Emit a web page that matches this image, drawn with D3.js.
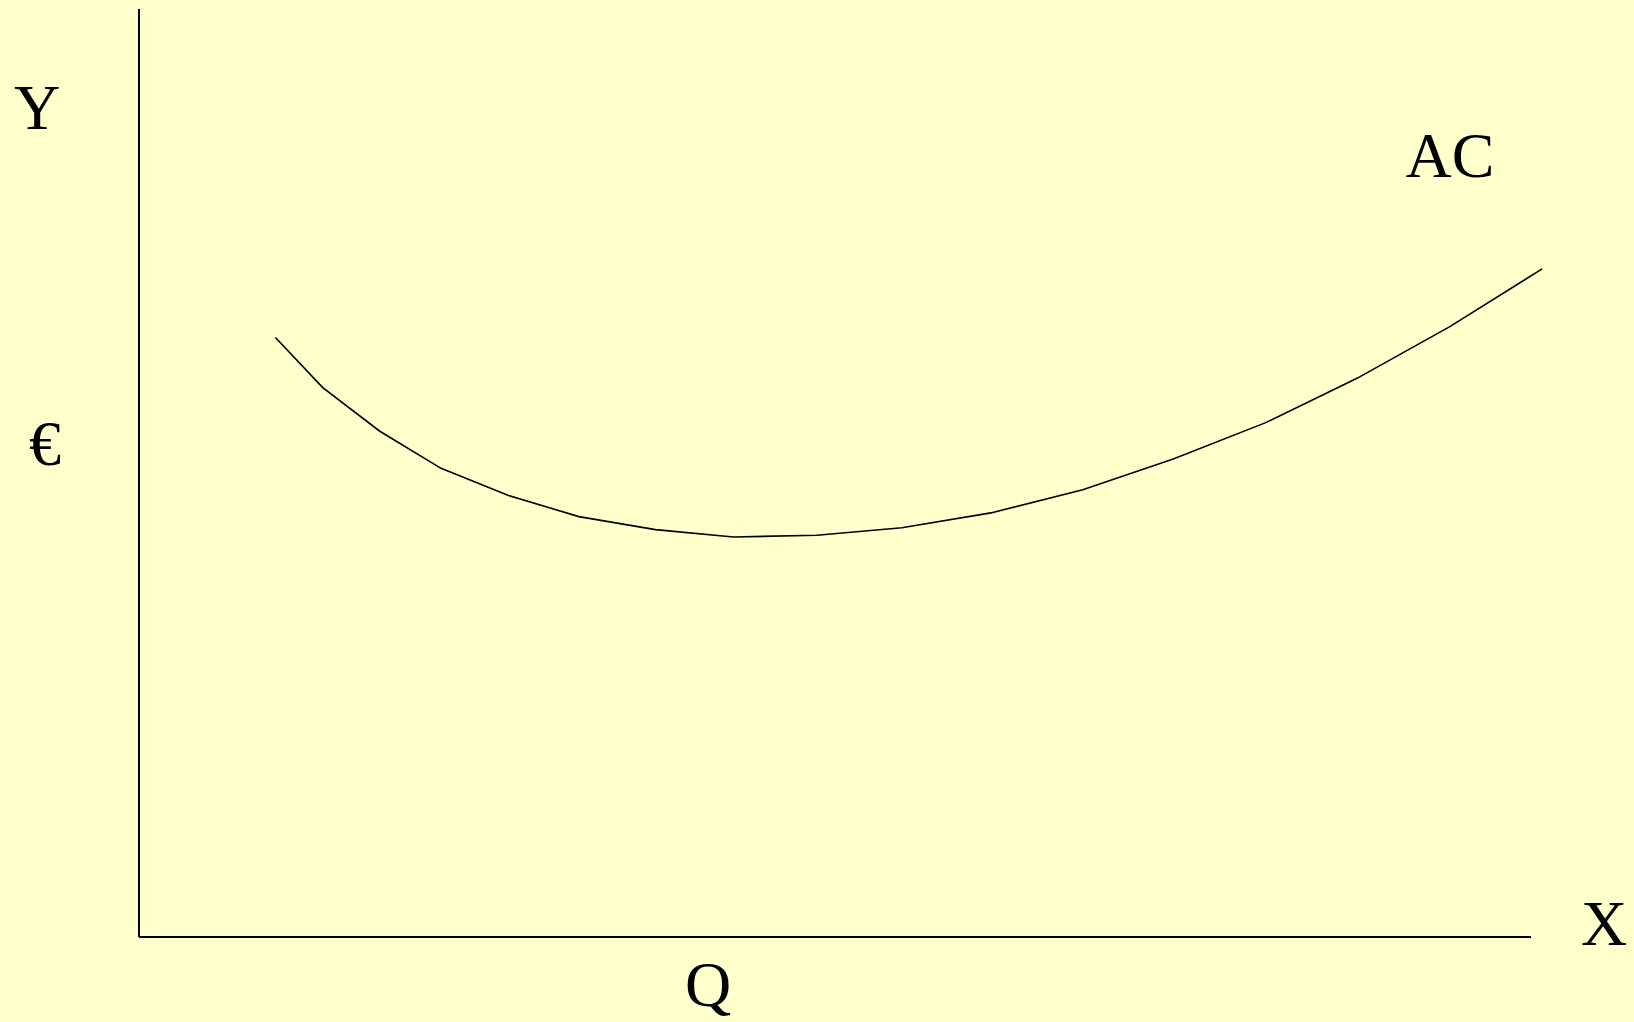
<!DOCTYPE html>
<html>
<head>
<meta charset="utf-8">
<script src="https://cdn.jsdelivr.net/npm/d3@7"></script>
<style>
  html, body { margin: 0; padding: 0; background: #ffffcc; }
  svg { display: block; }
  .lbl { font-family: "Liberation Serif", "Times New Roman", serif; font-size: 64px; fill: #000; }
</style>
</head>
<body>
<div id="chart"></div>
<script>
// quantity (x) and average cost (y) on a 0-100 scale
const quantity = [9.8, 13.2, 17.3, 21.7, 26.5, 31.6, 37.1, 42.7, 48.7, 54.8, 61.2, 67.8, 74.3, 80.9, 87.5, 94.2, 100.8];
const avgCost  = [64.6, 59.2, 54.5, 50.5, 47.6, 45.3, 43.9, 43.1, 43.3, 44.1, 45.7, 48.2, 51.5, 55.4, 60.2, 65.8, 72.0];
const curveLabel = 'AC';
const axisLabels = {y: 'Y', unit: '€', x: 'X', q: 'Q'};

const width = 1634, height = 1022;
const margin = {top: 9, right: 103, bottom: 85, left: 139};

const svg = d3.select('#chart').append('svg')
    .attr('width', width)
    .attr('height', height);

svg.append('rect')
    .attr('width', width)
    .attr('height', height)
    .attr('fill', '#ffffcc');

const x = d3.scaleLinear()
    .domain([0, 100])
    .range([margin.left, width - margin.right]);

const y = d3.scaleLinear()
    .domain([0, 100])
    .range([height - margin.bottom, margin.top]);

// axes drawn as plain lines, no ticks
svg.append('line')
    .attr('x1', x(0)).attr('x2', x(0))
    .attr('y1', y(0)).attr('y2', y(100))
    .attr('stroke', '#000')
    .attr('stroke-width', 2);

svg.append('line')
    .attr('x1', x(0)).attr('x2', x(100))
    .attr('y1', y(0)).attr('y2', y(0))
    .attr('stroke', '#000')
    .attr('stroke-width', 2);

const line = d3.line()
    .x(d => x(d[0]))
    .y(d => y(d[1]));

svg.append('path')
    .datum(d3.zip(quantity, avgCost))
    .attr('d', line)
    .attr('fill', 'none')
    .attr('stroke', '#000')
    .attr('stroke-width', 1.6);

// labels
svg.append('text').attr('class', 'lbl')
    .attr('x', 37).attr('y', 129)
    .attr('text-anchor', 'middle')
    .text(axisLabels.y);

svg.append('text').attr('class', 'lbl')
    .attr('x', 45).attr('y', 465)
    .attr('text-anchor', 'middle')
    .text(axisLabels.unit);

svg.append('text').attr('class', 'lbl')
    .attr('x', 1450).attr('y', 177)
    .attr('text-anchor', 'middle')
    .text(curveLabel);

svg.append('text').attr('class', 'lbl')
    .attr('x', 1604).attr('y', 945)
    .attr('text-anchor', 'middle')
    .text(axisLabels.x);

svg.append('text').attr('class', 'lbl')
    .attr('x', 708).attr('y', 1006)
    .attr('text-anchor', 'middle')
    .text(axisLabels.q);
</script>
</body>
</html>
